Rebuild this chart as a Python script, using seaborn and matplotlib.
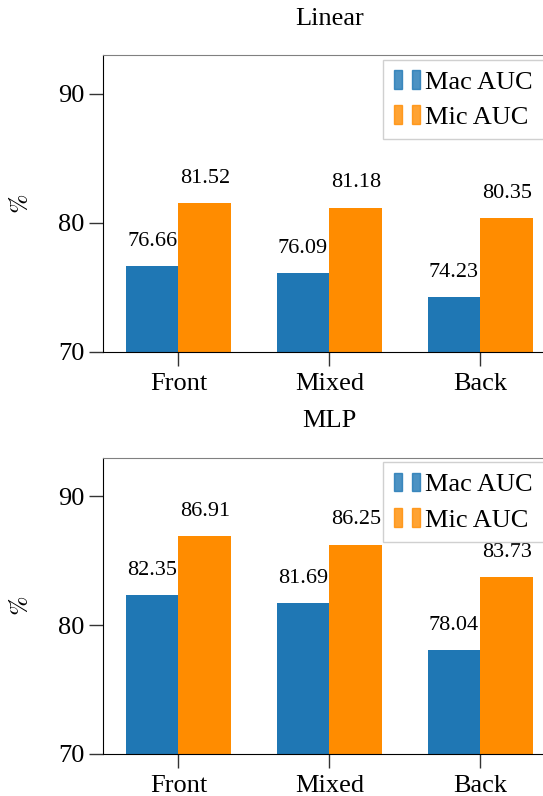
import matplotlib
matplotlib.use('Agg')
import matplotlib.pyplot as plt
import seaborn as sns
import pandas as pd
from matplotlib.patches import Patch
from matplotlib.legend_handler import HandlerTuple

positions = ['Front', 'Mixed', 'Back']
metrics = ['Mac AUC', 'Mic AUC']
linear_mac = [76.66, 76.09, 74.23]
linear_mic = [81.52, 81.18, 80.35]
mlp_mac = [82.35, 81.69, 78.04]
mlp_mic = [86.91, 86.25, 83.73]
colors = ['#1f77b4', '#ff8c00']

sns.set_style('ticks')
plt.rcParams['font.family'] = ['Liberation Serif', 'DejaVu Serif']
plt.rcParams['mathtext.fontset'] = 'stix'
plt.rcParams['text.color'] = 'black'
plt.rcParams['axes.labelcolor'] = 'black'
plt.rcParams['xtick.labelcolor'] = 'black'
plt.rcParams['ytick.labelcolor'] = 'black'

fig = plt.figure(figsize=(5.43, 7.96), dpi=100)
ax1 = fig.add_axes([0.1897, 0.5578, 0.834, 0.373])
ax2 = fig.add_axes([0.1897, 0.0528, 0.834, 0.372])


def make_df(mac, mic):
    return pd.DataFrame({
        'pos': positions * 2,
        'metric': [metrics[0]] * 3 + [metrics[1]] * 3,
        'value': mac + mic,
    })


for ax, title, mac, mic in [(ax1, 'Linear', linear_mac, linear_mic),
                            (ax2, 'MLP', mlp_mac, mlp_mic)]:
    df = make_df(mac, mic)
    sns.barplot(data=df, x='pos', y='value', hue='metric', order=positions,
                hue_order=metrics, palette=colors, saturation=1, width=0.7,
                gap=0, ax=ax, legend=False, linewidth=0)
    for cont in ax.containers:
        for bar in cont:
            h = bar.get_height()
            ax.annotate(f'{h:.2f}', (bar.get_x() + bar.get_width() / 2, h),
                        xytext=(0, 11), textcoords='offset points',
                        ha='center', va='bottom', fontsize=16, color='black')
    ax.set_ylim(70, 93)
    ax.set_xlim(-0.5, 2.5)
    ax.set_yticks([70, 80, 90])
    ax.set_xlabel('')
    ax.set_ylabel(r'$\%$', fontsize=19, labelpad=18)
    ax.set_title(title, fontsize=19, pad=22, color='black')
    ax.tick_params(axis='both', labelsize=19, length=10, width=1, color='#333333')
    ax.tick_params(axis='x', pad=5)
    ax.spines['top'].set_color('#808080')
    ax.spines['right'].set_color('#808080')
    for s in ['left', 'bottom']:
        ax.spines[s].set_color('black')
    handles = [(Patch(color=colors[i], alpha=0.8), Patch(color=colors[i], alpha=0.8))
               for i in range(2)]
    ax.legend(handles, metrics, handler_map={tuple: HandlerTuple(ndivide=None, pad=0.4)},
              loc='upper right', bbox_to_anchor=(0.973, 0.985), fontsize=19,
              handlelength=1.0, handletextpad=0.2, borderaxespad=0.0,
              labelspacing=0.45, borderpad=0.4, fancybox=False,
              edgecolor='#d0d0d0', framealpha=1)

fig.savefig('out.png', dpi=100)
